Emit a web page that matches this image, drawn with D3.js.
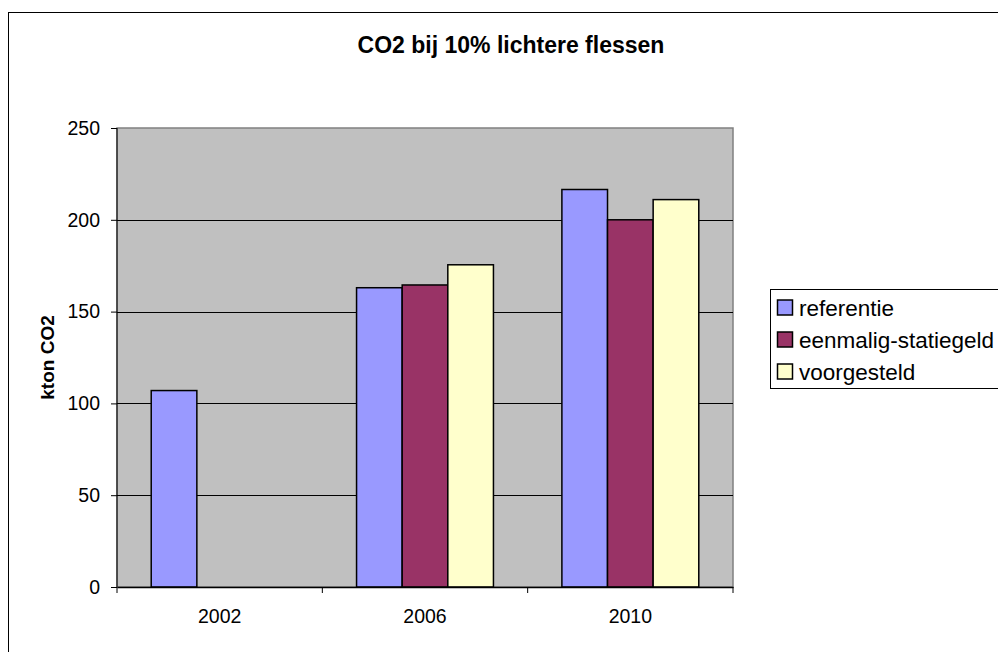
<!DOCTYPE html>
<html>
<head>
<meta charset="utf-8">
<script src="https://cdn.jsdelivr.net/npm/d3@7"></script>
<style>
  body { margin: 0; background: #fff; }
  text { font-family: "Liberation Sans", Arial, sans-serif; fill: #000; }
</style>
</head>
<body>
<div id="chart-area"></div>
<script>
// data
const years = ["2002", "2006", "2010"]
const seriesNames = ["referentie", "eenmalig-statiegeld", "voorgesteld"]
const referentie = [107, 163, 216.5]
const eenmalig = [null, 164.5, 200]
const voorgesteld = [null, 175.5, 211]
const yTicks = [0, 50, 100, 150, 200, 250]
const colors = ["#9999FF", "#993366", "#FFFFCC"]

const W = 998, H = 652
const PLOT = { left: 117, top: 128, right: 733, bottom: 587 }

const svg = d3.select("#chart-area").append("svg")
    .attr("width", W)
    .attr("height", H)

// outer chart border (runs off the right and bottom edges)
svg.append("rect")
    .attr("x", 8.5).attr("y", 12.5)
    .attr("width", 1100).attr("height", 800)
    .attr("fill", "#fff")
    .attr("stroke", "#000")
    .attr("stroke-width", 1)

svg.append("text")
    .attr("x", 511).attr("y", 53)
    .attr("text-anchor", "middle")
    .attr("font-size", "23px")
    .attr("font-weight", "bold")
    .text("CO2 bij 10% lichtere flessen")

const x0 = d3.scaleBand()
    .domain(years)
    .range([PLOT.left, PLOT.right])

const barW = x0.bandwidth() / 4.5
const x1 = d3.scaleBand()
    .domain(seriesNames)
    .range([0, barW * 3])

const y = d3.scaleLinear()
    .domain([0, 250])
    .range([PLOT.bottom, PLOT.top])

// plot background
svg.append("rect")
    .attr("x", PLOT.left).attr("y", PLOT.top)
    .attr("width", PLOT.right - PLOT.left)
    .attr("height", PLOT.bottom - PLOT.top)
    .attr("fill", "#C0C0C0")
    .attr("stroke", "#808080")
    .attr("stroke-width", 1.5)

// gridlines
svg.append("g")
    .selectAll("line")
    .data(yTicks.filter(d => d > 0 && d < 250))
    .enter().append("line")
    .attr("x1", PLOT.left).attr("x2", PLOT.right)
    .attr("y1", d => Math.round(y(d)) + 0.5)
    .attr("y2", d => Math.round(y(d)) + 0.5)
    .attr("stroke", "#000")
    .attr("stroke-width", 1)

// bars
const table = years.map((yr, i) => ({
    year: yr,
    values: [referentie[i], eenmalig[i], voorgesteld[i]]
}))

const groups = svg.append("g")
    .selectAll("g")
    .data(table)
    .enter().append("g")
    .attr("transform", d => `translate(${x0(d.year) + (x0.bandwidth() - barW * 3) / 2}, 0)`)

groups.selectAll("rect")
    .data(d => d.values.map((v, j) => ({ name: seriesNames[j], value: v, color: colors[j] })).filter(d => d.value != null))
    .enter().append("rect")
    .attr("x", d => x1(d.name))
    .attr("y", d => y(d.value))
    .attr("width", x1.bandwidth())
    .attr("height", d => y(0) - y(d.value))
    .attr("fill", d => d.color)
    .attr("stroke", "#000")
    .attr("stroke-width", 1.5)

// y axis
const yAxisCall = d3.axisLeft(y)
    .tickValues(yTicks)
    .tickSize(6)
    .tickPadding(11)
const yAxis = svg.append("g")
    .attr("transform", `translate(${PLOT.left}, 0)`)
    .call(yAxisCall)
yAxis.select(".domain").attr("stroke", "#000").attr("d", `M0,${PLOT.top}V${PLOT.bottom}`)
yAxis.selectAll("text")
    .attr("font-size", "19.5px")
    .attr("font-family", "Liberation Sans, Arial, sans-serif")

// x axis with ticks between the categories
const xAxisCall = d3.axisBottom(x0).tickSize(0).tickPadding(22)
const xAxis = svg.append("g")
    .attr("transform", `translate(0, ${PLOT.bottom})`)
    .call(xAxisCall)
xAxis.select(".domain").attr("stroke", "#000").attr("stroke-width", 1.5)
xAxis.selectAll("text")
    .attr("font-size", "19.5px")
    .attr("font-family", "Liberation Sans, Arial, sans-serif")
xAxis.selectAll(".sep")
    .data(years.map(d => x0(d)).concat([PLOT.right]))
    .enter().append("line")
    .attr("class", "sep")
    .attr("x1", d => d).attr("x2", d => d)
    .attr("y1", 0).attr("y2", 6)
    .attr("stroke", "#000")

svg.append("text")
    .attr("transform", `translate(54, ${(PLOT.top + PLOT.bottom) / 2}) rotate(-90)`)
    .attr("text-anchor", "middle")
    .attr("font-size", "19px")
    .attr("font-weight", "bold")
    .text("kton CO2")

// legend
const legend = svg.append("g")
    .attr("transform", "translate(770, 289)")
legend.append("rect")
    .attr("x", 0.5).attr("y", 0.5)
    .attr("width", 300).attr("height", 99)
    .attr("fill", "#fff")
    .attr("stroke", "#000")

const items = legend.selectAll(".item")
    .data(seriesNames)
    .enter().append("g")
    .attr("class", "item")
    .attr("transform", (d, i) => `translate(7, ${18.5 + i * 32})`)
items.append("rect")
    .attr("x", 0.5).attr("y", -7.5)
    .attr("width", 15).attr("height", 15)
    .attr("fill", (d, i) => colors[i])
    .attr("stroke", "#000")
    .attr("stroke-width", 1.5)
items.append("text")
    .attr("x", 22)
    .attr("y", 8)
    .attr("font-size", "22.5px")
    .text(d => d)
</script>
</body>
</html>
